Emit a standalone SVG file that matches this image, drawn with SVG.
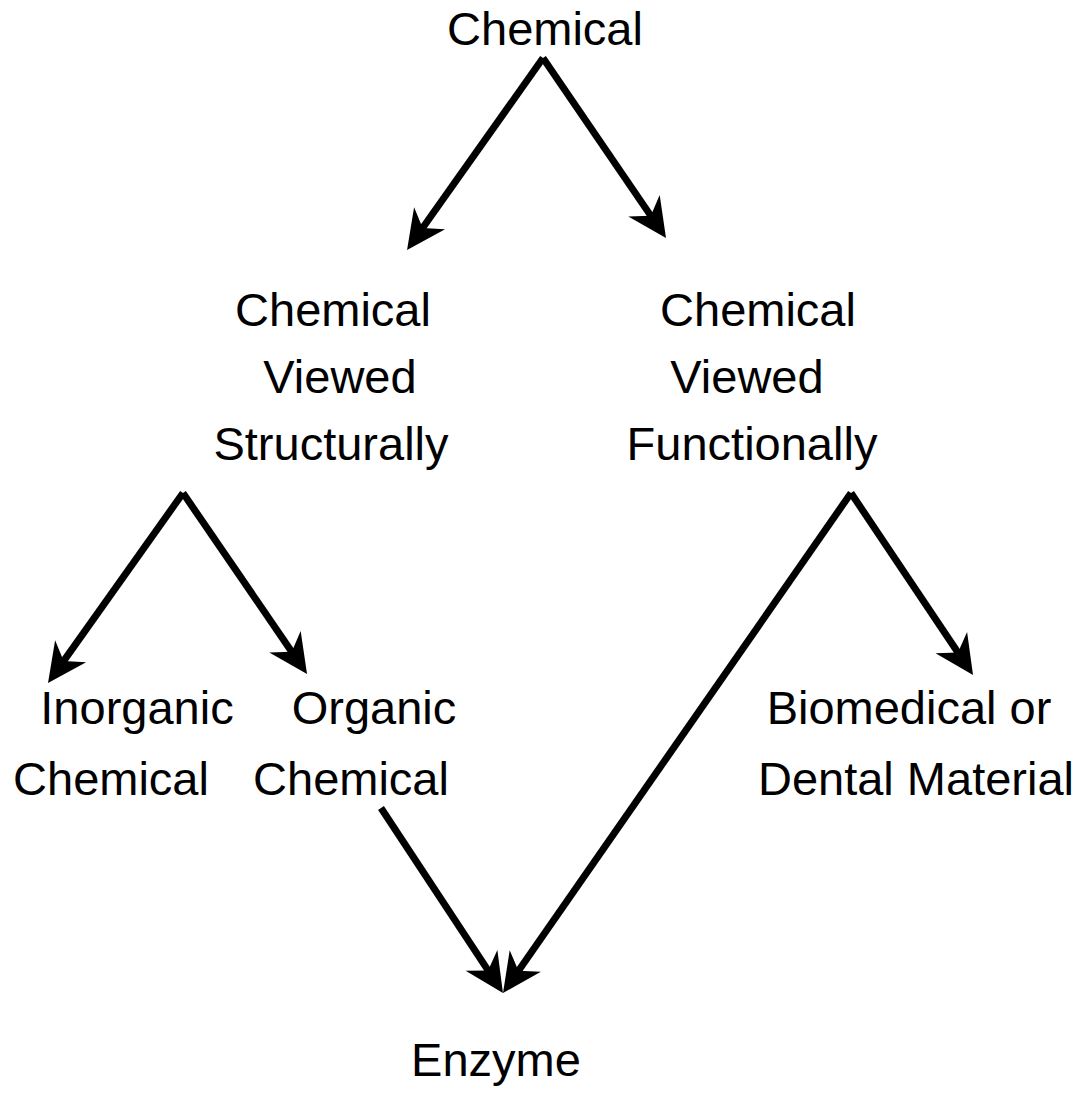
<svg xmlns="http://www.w3.org/2000/svg" width="1086" height="1109" viewBox="0 0 1086 1109">
  <style>
    .label { font-family: "Liberation Sans", Arial, sans-serif; font-size: 47px; fill: #000; text-anchor: middle; }
    .edge { stroke: #000; stroke-width: 7; fill: none; marker-end: url(#barb); }
  </style>
  <defs>
    <!-- notched arrowhead; its tip sits 25px beyond the line end -->
    <marker id="barb" markerUnits="userSpaceOnUse" viewBox="-20 -25 50 50" markerWidth="50" markerHeight="50" refX="0" refY="0" orient="auto">
      <path d="M25,0 L-14,-19 L-2,0 L-14,19 Z" fill="#000"/>
    </marker>
  </defs>

  <rect width="1086" height="1109" fill="#fff"/>

  <g id="edges">
    <line class="edge" x1="543" y1="58" x2="421.5" y2="229.6"/>
    <line class="edge" x1="543" y1="58" x2="651.9" y2="217.4"/>
    <line class="edge" x1="183" y1="493" x2="62.5" y2="662.6"/>
    <line class="edge" x1="183" y1="493" x2="292.9" y2="653.4"/>
    <line class="edge" x1="851" y1="493" x2="959.1" y2="654.2"/>
    <line class="edge" x1="851" y1="493" x2="517.3" y2="972.5"/>
    <line class="edge" x1="381" y1="808" x2="489.2" y2="972.1"/>
  </g>

  <g id="chemical">
    <text class="label" x="545" y="45">Chemical</text>
  </g>
  <g id="structural">
    <text class="label" x="333" y="326">Chemical</text>
    <text class="label" x="340" y="393">Viewed</text>
    <text class="label" x="331" y="460">Structurally</text>
  </g>
  <g id="functional">
    <text class="label" x="758" y="326">Chemical</text>
    <text class="label" x="747" y="393">Viewed</text>
    <text class="label" x="752" y="460">Functionally</text>
  </g>
  <g id="inorganic">
    <text class="label" x="137" y="724">Inorganic</text>
    <text class="label" x="111" y="795">Chemical</text>
  </g>
  <g id="organic">
    <text class="label" x="374" y="724">Organic</text>
    <text class="label" x="351" y="795">Chemical</text>
  </g>
  <g id="biomedical">
    <text class="label" x="909" y="724">Biomedical or</text>
    <text class="label" x="916" y="795">Dental Material</text>
  </g>
  <g id="enzyme">
    <text class="label" x="496" y="1076">Enzyme</text>
  </g>
</svg>
